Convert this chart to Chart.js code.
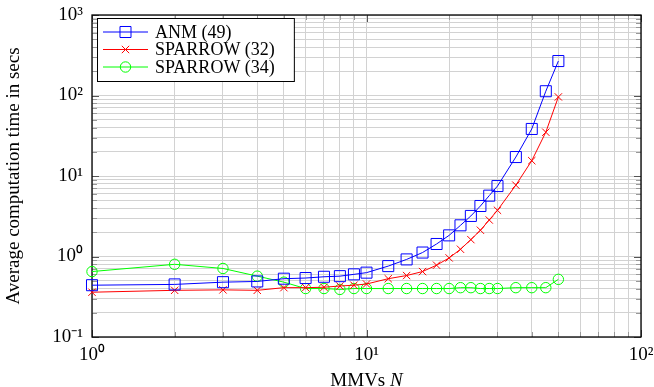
<!DOCTYPE html>
<html><head><meta charset="utf-8">
<script src="https://cdn.jsdelivr.net/npm/chart.js@4/dist/chart.umd.min.js"></script>
<style>html,body{margin:0;padding:0;background:#fff}#wrap{width:654px;height:387px;position:relative}</style>
</head><body><div id="wrap"><canvas id="c"></canvas></div>
<script>
// ---- data ----
const mmvs = [1,2,3,4,5,6,7,8,9,10,12,14,16,18,20,22,24,26,28,30,35,40,45,50];
const anm49 = [0.44,0.45,0.48,0.49,0.53,0.54,0.56,0.57,0.60,0.63,0.76,0.92,1.12,1.43,1.83,2.44,3.19,4.24,5.7,7.5,17.2,38.4,113,268];
const sparrow32 = [0.36,0.38,0.385,0.38,0.41,0.41,0.415,0.43,0.44,0.455,0.53,0.58,0.65,0.78,0.96,1.23,1.62,2.12,2.84,3.75,7.7,15.5,35,96];
const sparrow34 = [0.65,0.80,0.71,0.57,0.48,0.40,0.40,0.39,0.40,0.40,0.40,0.40,0.40,0.40,0.40,0.41,0.41,0.40,0.40,0.40,0.41,0.41,0.41,0.52];
const seriesLabels = ['ANM (49)','SPARROW (32)','SPARROW (34)'];
const xMajor = [1,10,100];
const xMajorLabels = ['10\u2070','10\u00b9','10\u00b2'];
const yMajor = [0.1,1,10,100,1000];
const yMajorLabels = ['10\u207b\u00b9','10\u2070','10\u00b9','10\u00b2','10\u00b3'];
const xTitle = ['MMVs ', 'N'];
const yTitle = 'Average computation time in secs';

const FONT = "'Liberation Serif', 'Times New Roman', serif";
Chart.defaults.font.family = FONT;
Chart.defaults.color = '#000';

function logTicks(majors){
  const out = [];
  for (let i=0;i<majors.length;i++){
    out.push({value:majors[i], major:true});
    if (i<majors.length-1) for (let k=2;k<=9;k++) out.push({value:majors[i]*k, major:false});
  }
  return out;
}
function majorLabel(majors, labels, v){
  for (let i=0;i<majors.length;i++) if (Math.abs(Math.log10(v)-Math.log10(majors[i]))<1e-6) return labels[i];
  return '';
}
const pts = arr => mmvs.map((x,i)=>({x:x, y:arr[i]}));

const framePlugin = {
  id:'frame',
  beforeDatasetsDraw(chart){
    const {ctx, chartArea:a, scales} = chart;
    ctx.save();
    ctx.lineWidth = 1;
    scales.x.ticks.forEach(t=>{
      const px = Math.round(scales.x.getPixelForValue(t.value))+0.5;
      const len = t.major ? 7 : 5;
      ctx.strokeStyle = t.major ? '#555' : '#999';
      ctx.beginPath(); ctx.moveTo(px,a.bottom); ctx.lineTo(px,a.bottom-len);
      ctx.moveTo(px,a.top); ctx.lineTo(px,a.top+len); ctx.stroke();
    });
    scales.y.ticks.forEach(t=>{
      const py = Math.round(scales.y.getPixelForValue(t.value))+0.5;
      const len = t.major ? 7 : 5;
      ctx.strokeStyle = t.major ? '#555' : '#999';
      ctx.beginPath(); ctx.moveTo(a.left,py); ctx.lineTo(a.left+len,py);
      ctx.moveTo(a.right,py); ctx.lineTo(a.right-len,py); ctx.stroke();
    });
    ctx.strokeStyle = '#000';
    ctx.lineWidth = 1.3;
    ctx.strokeRect(a.left, a.top, a.right-a.left, a.bottom-a.top);
    ctx.restore();
  },
  afterDraw(chart){
    const {ctx, chartArea:a} = chart;
    ctx.save();
    // x-axis title with italic N
    ctx.fillStyle = '#000';
    ctx.textBaseline = 'alphabetic';
    ctx.font = "19px " + FONT;
    const w1 = ctx.measureText(xTitle[0]).width;
    ctx.font = "italic 19px " + FONT;
    const w2 = ctx.measureText(xTitle[1]).width;
    const cx = (a.left + a.right)/2;
    let sx = cx - (w1+w2)/2;
    ctx.font = "19px " + FONT;
    ctx.fillText(xTitle[0], sx, a.bottom + 49);
    ctx.font = "italic 19px " + FONT;
    ctx.fillText(xTitle[1], sx + w1, a.bottom + 49);
    // legend
    ctx.font = "18px " + FONT;
    const ds = chart.data.datasets;
    let maxW = 0;
    ds.forEach(d=>{ maxW = Math.max(maxW, ctx.measureText(d.label).width); });
    const lx = a.left + 5, ly = a.top + 3;
    const bw = 58 + maxW + 19, bh = 63;
    ctx.fillStyle = '#fff';
    ctx.fillRect(lx, ly, bw, bh);
    ctx.strokeStyle = '#000'; ctx.lineWidth = 1;
    ctx.strokeRect(lx+0.5, ly+0.5, bw, bh);
    ds.forEach((d,i)=>{
      const yy = ly + 14 + i*17.5;
      ctx.strokeStyle = d.borderColor; ctx.lineWidth = 1;
      ctx.beginPath(); ctx.moveTo(lx+6, yy); ctx.lineTo(lx+51, yy); ctx.stroke();
      ctx.fillStyle = 'rgba(0,0,0,0)';
      Chart.helpers.drawPoint(ctx, {pointStyle:d.pointStyle, radius:d.pointRadius, borderWidth:1, rotation:0}, lx+28.5, yy);
      ctx.fillStyle = '#000';
      ctx.textBaseline = 'middle';
      ctx.fillText(d.label, lx+58, yy+1);
    });
    ctx.restore();
  }
};

function mkDs(label, arr, color, style, r){
  return {label, data: pts(arr), borderColor: color, backgroundColor:'rgba(0,0,0,0)',
    borderWidth:1, pointStyle: style, pointRadius: r, pointHoverRadius: r,
    pointBorderColor: color, pointBackgroundColor:'rgba(0,0,0,0)', pointBorderWidth:1,
    tension:0, clip:false};
}

new Chart(document.getElementById('c'), {
  type:'line',
  data:{ datasets:[
    mkDs(seriesLabels[0], anm49, '#0000ff', 'rect', 7.8),
    mkDs(seriesLabels[1], sparrow32, '#ff0000', 'crossRot', 5.2),
    mkDs(seriesLabels[2], sparrow34, '#00ff00', 'circle', 5.2)
  ]},
  options:{
    responsive:true, maintainAspectRatio:false, animation:false,
    devicePixelRatio:1,
    layout:{padding:{top:15, right:13, left:0, bottom:0}},
    plugins:{legend:{display:false}, tooltip:{enabled:false}},
    events:[],
    scales:{
      x:{ type:'logarithmic', position:'bottom', min:1, max:100,
        afterBuildTicks: s => { s.ticks = logTicks(xMajor); },
        afterFit: s => { s.height = 50; s.paddingLeft = 0; s.paddingRight = 0; },
        ticks:{ autoSkip:false, maxRotation:0, padding:7, font:{size:19}, color:'#000',
          callback: v => majorLabel(xMajor, xMajorLabels, v) },
        grid:{ color:'#d2d2d2', lineWidth:1, drawTicks:false },
        border:{ display:false },
        title:{ display:false }
      },
      y:{ type:'logarithmic', position:'left', min:0.1, max:1000,
        afterBuildTicks: s => { s.ticks = logTicks(yMajor); },
        afterFit: s => { s.width = 92; s.paddingTop = 0; s.paddingBottom = 0; },
        ticks:{ autoSkip:false, padding:9, font:{size:19}, color:'#000',
          callback: v => majorLabel(yMajor, yMajorLabels, v) },
        grid:{ color:'#d2d2d2', lineWidth:1, drawTicks:false },
        border:{ display:false },
        title:{ display:true, text:yTitle, font:{size:19}, color:'#000', padding:{top:3,bottom:0} }
      }
    }
  },
  plugins:[framePlugin]
});
</script></body></html>
